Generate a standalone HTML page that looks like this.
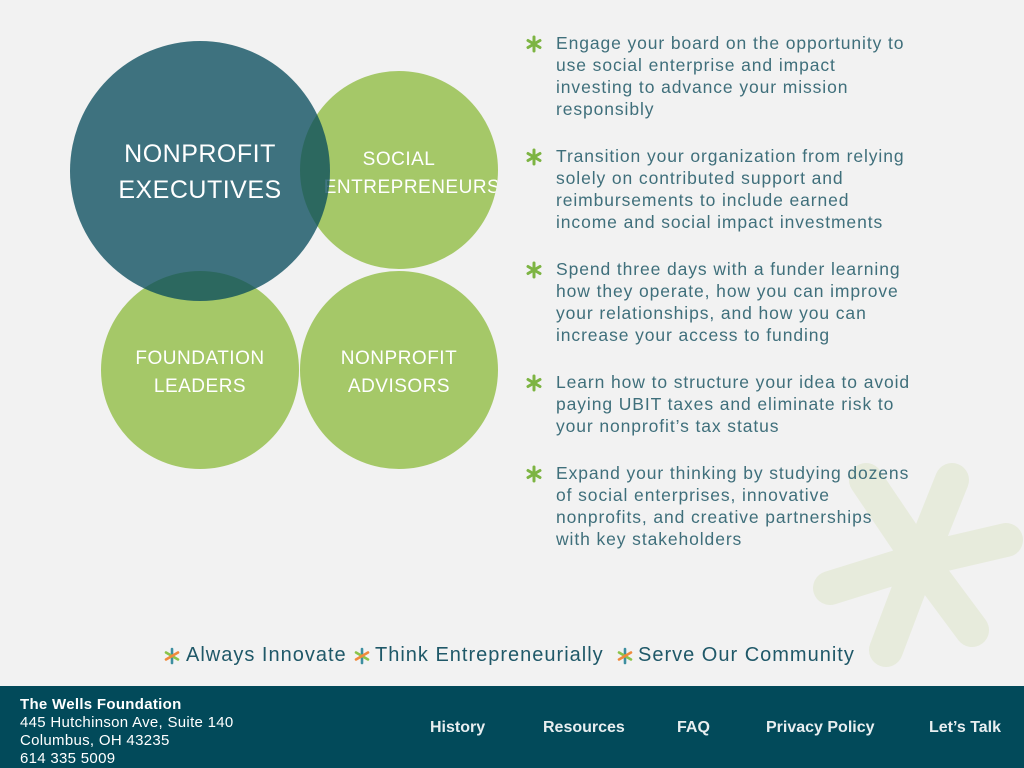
<!DOCTYPE html>
<html><head><meta charset="utf-8"><style>
*{margin:0;padding:0;box-sizing:border-box}
body{width:1024px;height:768px;background:#f2f2f2;position:relative;overflow:hidden;font-family:"Liberation Sans",sans-serif}
.b{position:absolute;left:556px;white-space:nowrap;font-size:17.5px;line-height:22px;color:#3f6f7b;letter-spacing:0.9px}
.t{position:absolute;top:644px;font-size:20px;color:#1f5868;letter-spacing:1px;white-space:nowrap}
.foot{position:absolute;left:0;top:686px;width:1024px;height:82px;background:#024a5a;color:#fff}
.nav{position:absolute;top:33px;font-size:16px;font-weight:bold;color:#e8eef0}
</style></head><body>
<svg width="1024" height="768" style="position:absolute;left:0;top:0">
<g stroke="#e7ebdc" stroke-width="34" stroke-linecap="round">
<line x1="920" y1="560" x2="952" y2="480"/>
<line x1="920" y1="560" x2="1006" y2="540"/>
<line x1="920" y1="560" x2="972" y2="630"/>
<line x1="920" y1="560" x2="886" y2="650"/>
<line x1="920" y1="560" x2="830" y2="588"/>
<line x1="920" y1="560" x2="866" y2="480"/>
</g>
<circle cx="399" cy="170" r="99" fill="#a5c868"/>
<circle cx="200" cy="370" r="99" fill="#a5c868"/>
<circle cx="399" cy="370" r="99" fill="#a5c868"/>
<defs><clipPath id="c1"><circle cx="399" cy="170" r="99"/></clipPath></defs>
<text x="399" y="165" fill="#fff" font-family="Liberation Sans" font-size="19" text-anchor="middle" letter-spacing="0.5">SOCIAL</text>
<text x="412" y="193" fill="#fff" font-family="Liberation Sans" font-size="19" text-anchor="middle" letter-spacing="0.5" clip-path="url(#c1)">ENTREPRENEURS</text>
<circle cx="200" cy="171" r="130" fill="rgb(8,75,93)" fill-opacity="0.77"/>
<text x="200" y="162" fill="#fff" font-family="Liberation Sans" font-size="25" text-anchor="middle" letter-spacing="0.5">NONPROFIT</text>
<text x="200" y="198" fill="#fff" font-family="Liberation Sans" font-size="25" text-anchor="middle" letter-spacing="0.5">EXECUTIVES</text>
<text x="200" y="364" fill="#fff" font-family="Liberation Sans" font-size="19" text-anchor="middle" letter-spacing="0.5">FOUNDATION</text>
<text x="200" y="392" fill="#fff" font-family="Liberation Sans" font-size="19" text-anchor="middle" letter-spacing="0.5">LEADERS</text>
<text x="399" y="364" fill="#fff" font-family="Liberation Sans" font-size="19" text-anchor="middle" letter-spacing="0.5">NONPROFIT</text>
<text x="399" y="392" fill="#fff" font-family="Liberation Sans" font-size="19" text-anchor="middle" letter-spacing="0.5">ADVISORS</text>
<defs><g id="a"><g stroke="#7db443" stroke-width="3" stroke-linecap="round"><line x1="0" y1="-7" x2="0" y2="7"/><line x1="-6" y1="-3.5" x2="6" y2="3.5"/><line x1="-6" y1="3.5" x2="6" y2="-3.5"/></g></g>
<g id="m"><g stroke-width="2.6" stroke-linecap="round"><line x1="0" y1="-7" x2="0" y2="7" stroke="#3d8fa0"/><line x1="-6" y1="-3.5" x2="6" y2="3.5" stroke="#8bc34a"/><line x1="-6" y1="3.5" x2="6" y2="-3.5" stroke="#f08a3c"/></g></g></defs>
<use href="#a" x="534" y="44"/>
<use href="#a" x="534" y="157"/>
<use href="#a" x="534" y="270"/>
<use href="#a" x="534" y="383"/>
<use href="#a" x="534" y="474"/>
<use href="#m" x="172" y="656"/>
<use href="#m" x="362" y="656"/>
<use href="#m" x="625" y="656"/>
</svg>
<div class="b" style="top:32px">Engage your board on the opportunity to<br>use social enterprise and impact<br>investing to advance your mission<br>responsibly</div>
<div class="b" style="top:145px">Transition your organization from relying<br>solely on contributed support and<br>reimbursements to include earned<br>income and social impact investments</div>
<div class="b" style="top:258px">Spend three days with a funder learning<br>how they operate, how you can improve<br>your relationships, and how you can<br>increase your access to funding</div>
<div class="b" style="top:371px">Learn how to structure your idea to avoid<br>paying UBIT taxes and eliminate risk to<br>your nonprofit’s tax status</div>
<div class="b" style="top:462px">Expand your thinking by studying dozens<br>of social enterprises, innovative<br>nonprofits, and creative partnerships<br>with key stakeholders</div>
<div class="t" style="left:186px">Always Innovate</div>
<div class="t" style="left:375px">Think Entrepreneurially</div>
<div class="t" style="left:638px">Serve Our Community</div>
<div class="foot">
<div style="position:absolute;left:20px;top:10px;font-size:15px;line-height:18px;white-space:nowrap;letter-spacing:0.3px"><b>The Wells Foundation</b><br>445 Hutchinson Ave, Suite 140<br>Columbus, OH 43235<br>614 335 5009</div>
<div class="nav" style="left:430px">History</div>
<div class="nav" style="left:543px">Resources</div>
<div class="nav" style="left:677px">FAQ</div>
<div class="nav" style="left:766px">Privacy Policy</div>
<div class="nav" style="left:929px">Let’s Talk</div>
</div>
</body></html>
